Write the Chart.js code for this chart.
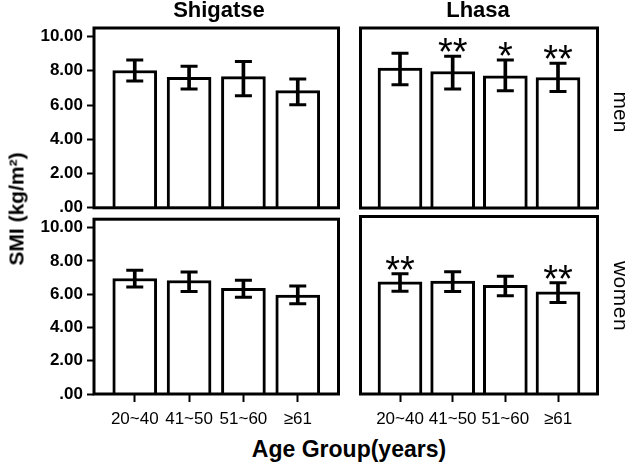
<!DOCTYPE html>
<html><head><meta charset="utf-8">
<script src="https://cdn.jsdelivr.net/npm/chart.js@4/dist/chart.umd.min.js"></script>
<style>
html,body{margin:0;padding:0;background:#fff;}
#wrap{position:relative;width:630px;height:467px;overflow:hidden;font-family:'Liberation Sans',Arial,sans-serif;color:#000;background:#fff;}
canvas{position:absolute;}
.t{position:absolute;white-space:nowrap;transform:translate(-50%,-50%);line-height:1;}
.b{font-weight:bold;}
.r90{transform:translate(-50%,-50%) rotate(90deg);}
.rm90{transform:translate(-50%,-50%) rotate(-90deg);}
</style></head><body>
<div id="wrap">
<canvas id="c0"></canvas><canvas id="c1"></canvas><canvas id="c2"></canvas><canvas id="c3"></canvas>
<div class="t b" style="left:219px;top:10px;font-size:22px;">Shigatse</div>
<div class="t b" style="left:478px;top:10px;font-size:22px;">Lhasa</div>
<div class="t b rm90" style="left:16px;top:209px;font-size:21px;">SMI (kg/m²)</div>
<div class="t b" style="left:349px;top:449px;font-size:23px;">Age Group(years)</div>
<div class="t r90" style="left:621px;top:112px;font-size:21px;">men</div>
<div class="t r90" style="left:621px;top:296px;font-size:21px;letter-spacing:0.5px;">women</div>
</div>
<script>
// ---- data ----
const ageGroups = ['20~40', '41~50', '51~60', '≥61'];
const yTickValues = [0, 2, 4, 6, 8, 10];
const yTickLabels = ['.00', '2.00', '4.00', '6.00', '8.00', '10.00'];

const shigatseMenMean = [8.02, 7.62, 7.66, 6.84];
const shigatseMenLow  = [7.41, 6.94, 6.55, 6.02];
const shigatseMenHigh = [8.63, 8.26, 8.54, 7.52];

const lhasaMenMean = [8.16, 7.96, 7.71, 7.61];
const lhasaMenLow  = [7.19, 6.94, 6.84, 6.80];
const lhasaMenHigh = [9.03, 8.85, 8.64, 8.45];
const lhasaMenSig  = ['', '**', '*', '**'];

const shigatseWomenMean = [6.94, 6.82, 6.35, 5.94];
const shigatseWomenLow  = [6.43, 6.16, 5.81, 5.42];
const shigatseWomenHigh = [7.43, 7.33, 6.84, 6.49];

const lhasaWomenMean = [6.63, 6.68, 6.43, 6.04];
const lhasaWomenLow  = [6.08, 6.06, 5.81, 5.42];
const lhasaWomenHigh = [7.11, 7.23, 6.96, 6.58];
const lhasaWomenSig  = ['**', '', '', '**'];

const FONT = "'Liberation Sans', Arial, sans-serif";

const framePlugin = {
  id: 'frame',
  afterDraw(chart) {
    const a = chart.chartArea, ctx = chart.ctx;
    ctx.save();
    ctx.strokeStyle = '#000';
    ctx.lineWidth = 3;
    ctx.strokeRect(a.left, a.top, a.right - a.left, a.bottom - a.top);
    ctx.restore();
  }
};

function sigPlugin(sig, high) {
  return {
    id: 'sig',
    afterDraw(chart) {
      if (!sig) return;
      const ctx = chart.ctx, xs = chart.scales.x, ys = chart.scales.y;
      ctx.save();
      ctx.font = '38px ' + FONT;
      ctx.fillStyle = '#000';
      ctx.textAlign = 'center';
      ctx.textBaseline = 'alphabetic';
      sig.forEach((s, i) => {
        if (!s) return;
        const m = ctx.measureText(s);
        const capTop = ys.getPixelForValue(high[i]) - 1.5;
        const base = capTop - 2.5 - m.actualBoundingBoxDescent;
        ctx.fillText(s, xs.getPixelForValue(i), base);
      });
      ctx.restore();
    }
  };
}

function makePanel(id, canvasRect, area, mean, low, high, sig, showX, showY) {
  const cv = document.getElementById(id);
  const [cx, cy, cw, ch] = canvasRect;
  cv.width = cw; cv.height = ch;
  cv.style.left = cx + 'px'; cv.style.top = cy + 'px';
  cv.style.width = cw + 'px'; cv.style.height = ch + 'px';
  const [L, T, R, B] = area;

  const bars = mean.map((v, i) => ({ x: i, y: v }));
  const errs = low.map((v, i) => ({ x: i, y: [v, high[i]] }));
  const caps = high.map((v, i) => ({ x: i, y: v })).concat(low.map((v, i) => ({ x: i, y: v })));

  new Chart(cv.getContext('2d'), {
    type: 'bar',
    data: {
      datasets: [
        { type: 'scatter', data: caps, pointStyle: 'line', pointRadius: 8.5, pointHoverRadius: 8.5,
          borderColor: '#000', backgroundColor: '#000', pointBorderWidth: 3, borderWidth: 3, order: 1 },
        { type: 'bar', data: errs, backgroundColor: '#000', borderWidth: 0, barThickness: 3,
          grouped: false, order: 2 },
        { type: 'bar', data: bars, backgroundColor: '#fff', borderColor: '#000', borderWidth: 3,
          barThickness: 44, grouped: false, order: 3 }
      ]
    },
    options: {
      responsive: false, animation: false, devicePixelRatio: 1, events: [],
      plugins: { legend: { display: false }, tooltip: { enabled: false } },
      layout: { padding: { top: T - cy, right: cx + cw - R, left: 0, bottom: 0 } },
      scales: {
        x: {
          type: 'linear', min: -0.75, max: 3.75, offset: false, bounds: 'data',
          afterBuildTicks: s => { s.ticks = ageGroups.map((_, i) => ({ value: i })); },
          ticks: { display: showX, callback: (v, i) => ageGroups[i], color: '#000',
                   font: { family: FONT, size: 17 }, padding: 7, maxRotation: 0, autoSkip: false },
          grid: { offset: false, drawOnChartArea: false, drawTicks: showX, tickLength: 8, tickWidth: 2, tickColor: '#000' },
          border: { display: false },
          afterFit: s => { s.height = cy + ch - B; }
        },
        y: {
          type: 'linear', min: 0, max: 10.5,
          afterBuildTicks: s => { s.ticks = yTickValues.map(v => ({ value: v })); },
          ticks: { display: showY, callback: (v, i) => yTickLabels[i], color: '#000',
                   font: { family: FONT, size: 17, weight: 'bold' }, padding: 4 },
          grid: { drawOnChartArea: false, drawTicks: showY, tickLength: 7, tickWidth: 2, tickColor: '#000' },
          border: { display: false },
          afterFit: s => { s.width = L - cx; }
        }
      }
    },
    plugins: [framePlugin, sigPlugin(sig, high)]
  });
}

makePanel('c0', [0, 0, 350, 222], [94, 28, 345, 208], shigatseMenMean, shigatseMenLow, shigatseMenHigh, null, false, true);
makePanel('c1', [349, 0, 260, 222], [353, 28, 604, 208], lhasaMenMean, lhasaMenLow, lhasaMenHigh, lhasaMenSig, false, false);
makePanel('c2', [0, 205, 350, 230], [94, 215, 345, 394], shigatseWomenMean, shigatseWomenLow, shigatseWomenHigh, null, true, true);
makePanel('c3', [349, 205, 260, 230], [353, 215, 604, 394], lhasaWomenMean, lhasaWomenLow, lhasaWomenHigh, lhasaWomenSig, true, false);
</script>
</body></html>
